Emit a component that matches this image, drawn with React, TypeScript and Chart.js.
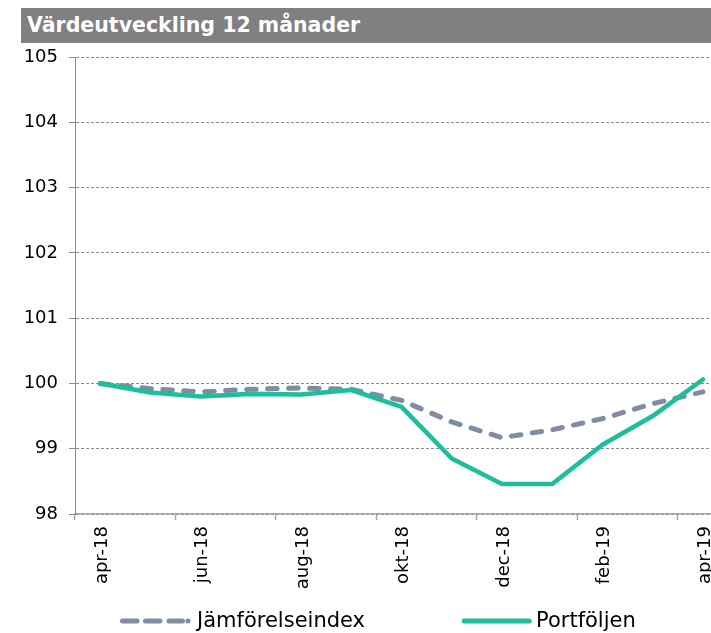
import React, { useEffect, useRef } from 'react';
import { Chart, registerables } from 'chart.js';

Chart.register(...registerables);

const months = ['apr-18', 'maj-18', 'jun-18', 'jul-18', 'aug-18', 'sep-18', 'okt-18', 'nov-18', 'dec-18', 'jan-19', 'feb-19', 'mar-19', 'apr-19'];
const jamforelseindex = [100, 99.92, 99.87, 99.91, 99.93, 99.91, 99.74, 99.41, 99.17, 99.29, 99.46, 99.69, 99.87];
const portfoljen = [100, 99.86, 99.8, 99.84, 99.83, 99.9, 99.64, 98.85, 98.46, 98.46, 99.06, 99.5, 100.06];
const yTicks = [98, 99, 100, 101, 102, 103, 104, 105];
const seriesNames = ['Jämförelseindex', 'Portföljen'];
const titleText = 'Värdeutveckling 12 månader';

const FONT = '"DejaVu Sans", Verdana, sans-serif';

const bottomLegend = {
  id: 'bottomLegend',
  afterDraw(chart: any, _args: any, opts: any) {
    const { ctx } = chart;
    ctx.save();
    ctx.font = `${opts.fontSize}px ${FONT}`;
    ctx.textBaseline = 'alphabetic';
    chart.data.datasets.forEach((ds: any, i: number) => {
      const item = opts.items[i];
      ctx.beginPath();
      ctx.lineWidth = 5;
      ctx.lineCap = 'round';
      ctx.strokeStyle = ds.borderColor;
      ctx.setLineDash(item.dash || []);
      ctx.moveTo(item.lineX, opts.lineY);
      ctx.lineTo(item.lineX + item.lineLength, opts.lineY);
      ctx.stroke();
      ctx.setLineDash([]);
      ctx.fillStyle = '#000';
      ctx.fillText(ds.label, item.textX, opts.textY);
    });
    ctx.restore();
  },
};

export default function App() {
  const ref = useRef<HTMLCanvasElement | null>(null);

  useEffect(() => {
    if (!ref.current) return;
    const chart = new Chart(ref.current, {
      type: 'line',
      data: {
        labels: months,
        datasets: [
          {
            label: seriesNames[0],
            data: jamforelseindex,
            borderColor: '#808ca2',
            borderWidth: 5,
            borderDash: [9.5, 11.5],
            borderCapStyle: 'round',
            pointRadius: 0,
            fill: false,
            tension: 0,
            order: 1,
          },
          {
            label: seriesNames[1],
            data: portfoljen,
            borderColor: '#1dbe9b',
            borderWidth: 4.6,
            borderCapStyle: 'round',
            borderJoinStyle: 'round',
            pointRadius: 0,
            fill: false,
            tension: 0,
            order: 0,
          },
        ],
      },
      plugins: [bottomLegend],
      options: {
        responsive: false,
        animation: false,
        layout: { padding: { left: 15, top: 14, right: 0, bottom: 44 } },
        plugins: {
          legend: { display: false },
          tooltip: { enabled: false },
          title: { display: false },
          bottomLegend: {
            fontSize: 21,
            lineY: 578,
            textY: 584,
            items: [
              { lineX: 114.5, lineLength: 66.5, textX: 189, dash: [14.5, 8.5, 14.5, 9, 13.5, 5.5, 0.01, 20] },
              { lineX: 456.2, lineLength: 65, textX: 528, dash: [] },
            ],
          },
        } as any,
        scales: {
          x: {
            offset: true,
            grid: {
              display: true,
              drawOnChartArea: false,
              drawTicks: true,
              tickLength: 6,
              offset: true,
              tickWidth: 1.5,
              tickColor: (c: any) => (c.index % 2 === 0 ? '#a6a6a6' : 'rgba(0,0,0,0)'),
            },
            border: { display: true, color: '#a6a6a6', width: 1.5 },
            ticks: {
              autoSkip: false,
              minRotation: 90,
              maxRotation: 90,
              padding: 6,
              labelOffset: 2,
              color: '#000',
              font: { family: FONT, size: 18 },
              callback: (_v: any, i: number) => (i % 2 === 0 ? months[i] : ''),
            },
            afterFit: (s: any) => {
              s.height = 75;
              s.paddingLeft = 0;
              s.paddingRight = 0;
            },
          },
          y: {
            min: 98,
            max: 105,
            afterBuildTicks: (s: any) => {
              s.ticks = yTicks.map((v) => ({ value: v }));
            },
            ticks: {
              padding: 11,
              color: '#000',
              font: { family: FONT, size: 18 },
            },
            grid: {
              color: '#8c8c8c',
              lineWidth: 1,
              drawTicks: true,
              tickLength: 6,
              tickColor: '#8c8c8c',
            },
            border: { display: true, color: '#8c8c8c', width: 1, dash: [3, 2] },
            afterFit: (s: any) => {
              s.width = 52;
              s.paddingTop = 0;
              s.paddingBottom = 0;
            },
          },
        },
      } as any,
    });
    return () => chart.destroy();
  }, []);

  return (
    <div style={{ position: 'fixed', left: 0, top: 0, width: 711, height: 633, overflow: 'hidden', background: '#fff' }}>
      <div
        style={{
          position: 'absolute',
          left: 21,
          top: 8,
          width: 684,
          height: 35,
          background: '#808080',
          color: '#fff',
          font: `bold 20.5px ${FONT}`,
          lineHeight: '35px',
          paddingLeft: 6,
          whiteSpace: 'nowrap',
          overflow: 'hidden',
        }}
      >
        {titleText}
      </div>
      <canvas
        ref={ref}
        width={720}
        height={590}
        style={{ position: 'absolute', left: 8, top: 43, display: 'block', width: 720, height: 590 }}
      />
    </div>
  );
}
